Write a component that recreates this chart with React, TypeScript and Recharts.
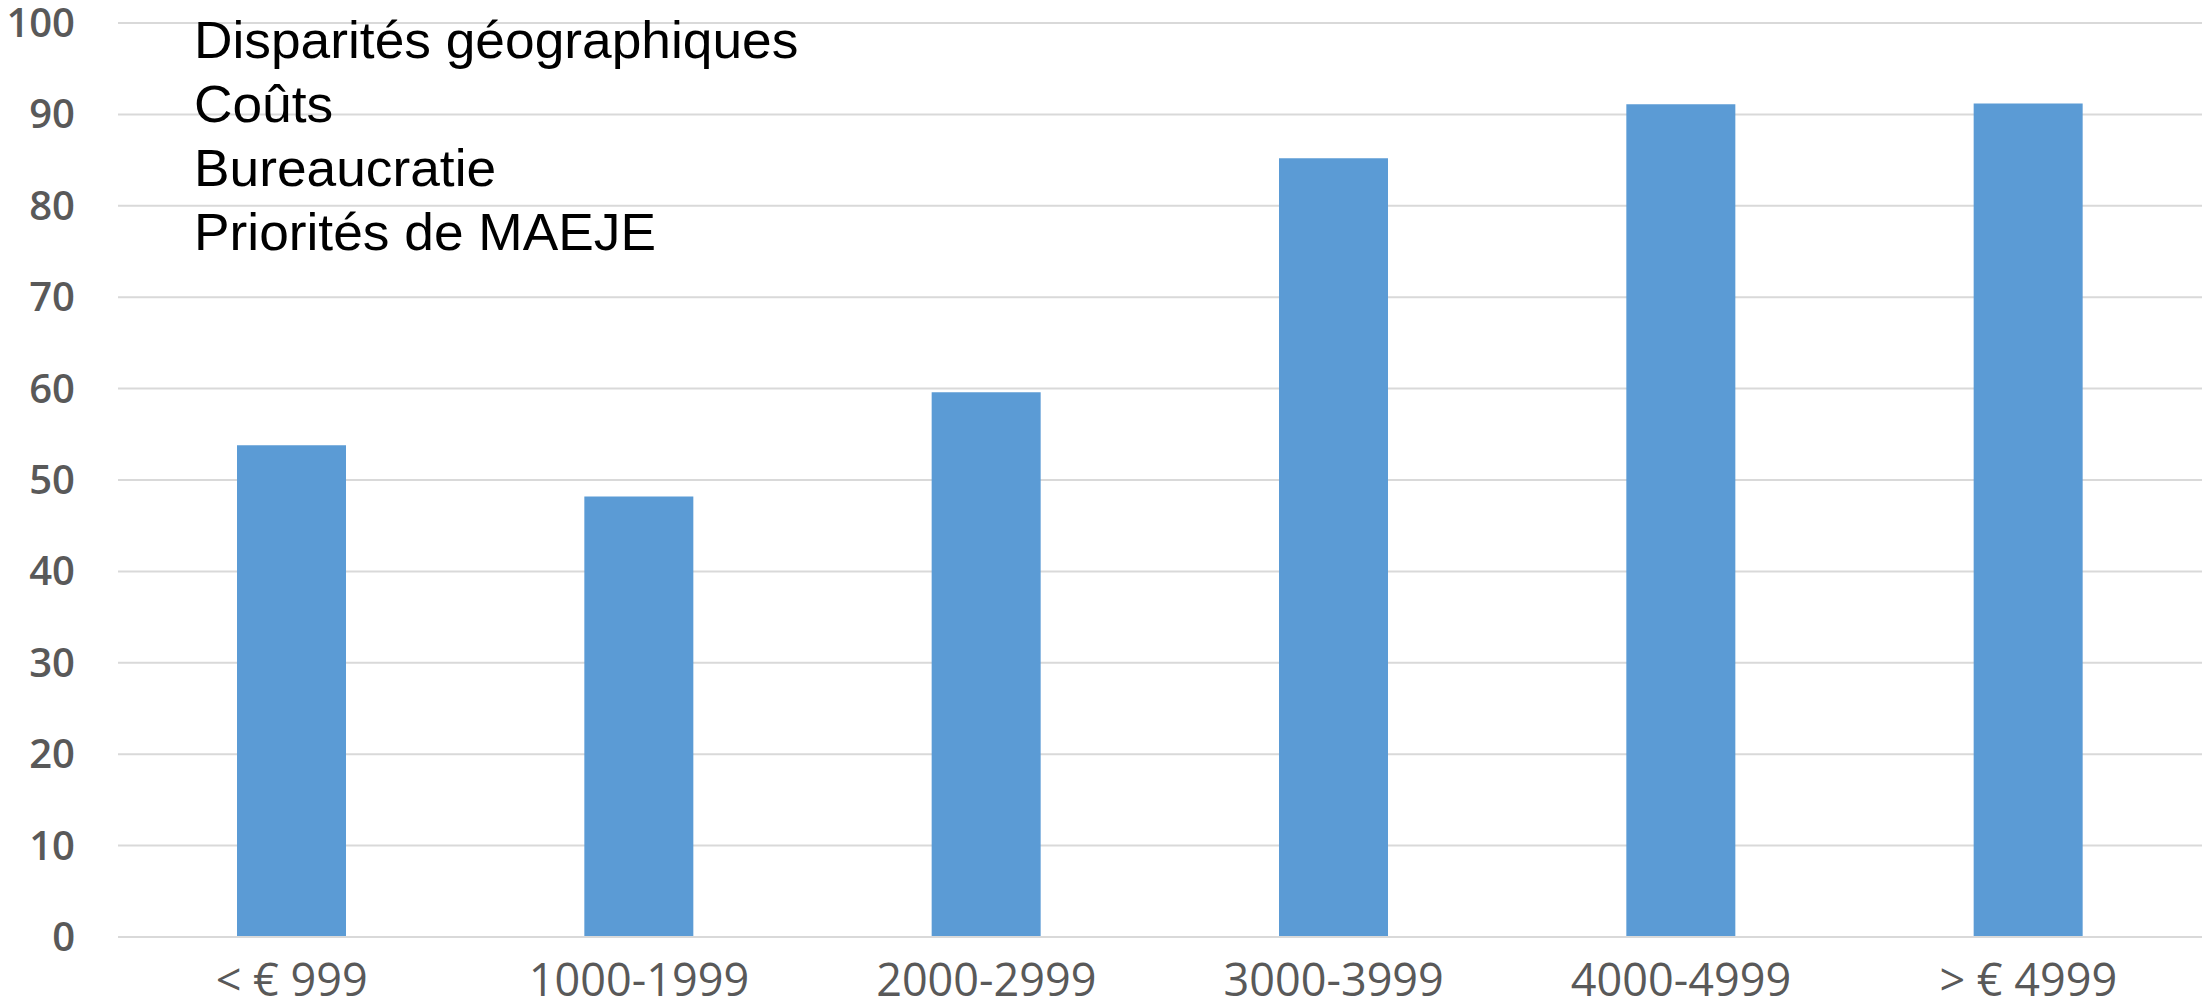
import { Bar, BarChart, CartesianGrid, XAxis, YAxis } from 'recharts';

const categories = ['< € 999', '1000-1999', '2000-2999', '3000-3999', '4000-4999', '> € 4999'];
const values = [53.8, 48.2, 59.6, 85.2, 91.1, 91.2];
const yTicks = [0, 10, 20, 30, 40, 50, 60, 70, 80, 90, 100];
const noteLines = ['Disparités géographiques', 'Coûts', 'Bureaucratie', 'Priorités de MAEJE'];

const data = categories.map((label, i) => ({ label, value: values[i] }));

const W = 2202;
const H = 1008;
const GRID = '#d9d9d9';
const TICK = '#595959';
const FONT = '"Open Sans", "Noto Sans", sans-serif';

function XTick({ x, y, payload }: { x?: number; y?: number; payload?: { value: string } }) {
  return (
    <text x={x} y={y} dy={59} textAnchor="middle" fill={TICK} fontSize={45} fontFamily={FONT}>
      {payload?.value}
    </text>
  );
}

function YTick({ x, y, payload }: { x?: number; y?: number; payload?: { value: number } }) {
  return (
    <text x={(x ?? 0) - 43} y={y} dy={14} textAnchor="end" fill={TICK} fontSize={40} fontWeight={600} fontFamily={FONT}>
      {payload?.value}
    </text>
  );
}

export default function App() {
  return (
    <div style={{ position: 'absolute', left: 0, top: 0, width: W, height: H, background: '#fff' }}>
      <BarChart width={W} height={H} data={data} margin={{ top: 23, right: 0, bottom: 0, left: 0 }}>
        <CartesianGrid stroke={GRID} strokeWidth={2} vertical={false} />
        <XAxis
          dataKey="label"
          tick={<XTick />}
          tickLine={false}
          tickSize={0}
          tickMargin={0}
          axisLine={{ stroke: GRID, strokeWidth: 2 }}
          height={71}
        />
        <YAxis
          domain={[0, 100]}
          ticks={yTicks}
          tick={<YTick />}
          tickLine={false}
          tickSize={0}
          tickMargin={0}
          axisLine={false}
          width={118}
          interval={0}
        />
        <Bar dataKey="value" fill="#5b9bd5" barSize={109} isAnimationActive={false} />
      </BarChart>
      <svg width={W} height={H} style={{ position: 'absolute', left: 0, top: 0, pointerEvents: 'none' }}>
        <g transform="translate(194 0) scale(1.045 1)">
          {noteLines.map((line, i) => (
            <text key={line} x={0} y={58 + i * 64} fontSize={51} fill="#000" fontFamily='"Liberation Sans", Arial, sans-serif'>
              {line}
            </text>
          ))}
        </g>
      </svg>
    </div>
  );
}
